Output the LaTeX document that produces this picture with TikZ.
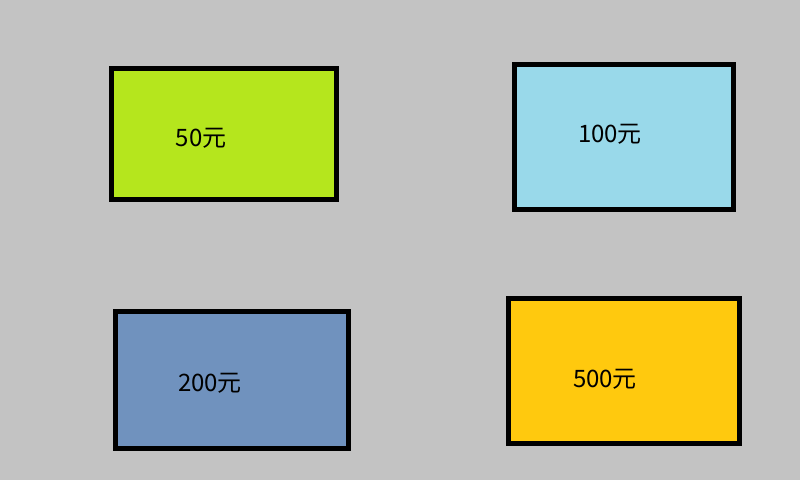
\documentclass[tikz,border=0pt]{standalone}
\usepackage{fontspec}
\setmainfont{Noto Sans CJK SC}
\definecolor{bg}{HTML}{C3C3C3}
\definecolor{cgreen}{HTML}{B5E61D}
\definecolor{cblue}{HTML}{99D9EA}
\definecolor{csteel}{HTML}{7092BE}
\definecolor{cgold}{HTML}{FFC90E}
\tikzset{
  card/.style={draw=black, line width=5pt},
  lbl/.style={font=\fontsize{24pt}{28pt}\selectfont, text=black, inner sep=0pt}
}
\begin{document}
\begin{tikzpicture}[x=1pt,y=-1pt]
\fill[bg] (0,0) rectangle (800,480);
\useasboundingbox (0,0) rectangle (800,480);
\draw[card, fill=cgreen] (111.5,68.5) rectangle (336.5,199.5);
\draw[card, fill=cblue] (514.5,64.5) rectangle (733.5,209.5);
\draw[card, fill=csteel] (115.5,311.5) rectangle (348.5,448.5);
\draw[card, fill=cgold] (508.5,298.5) rectangle (739.5,443.5);
\node[lbl] (t50) at (201,138) {50元};
\node[lbl] (t100) at (610,134) {100元};
\node[lbl] (t200) at (210,383) {200元};
\node[lbl] (t500) at (605,379) {500元};
\end{tikzpicture}
\end{document}
